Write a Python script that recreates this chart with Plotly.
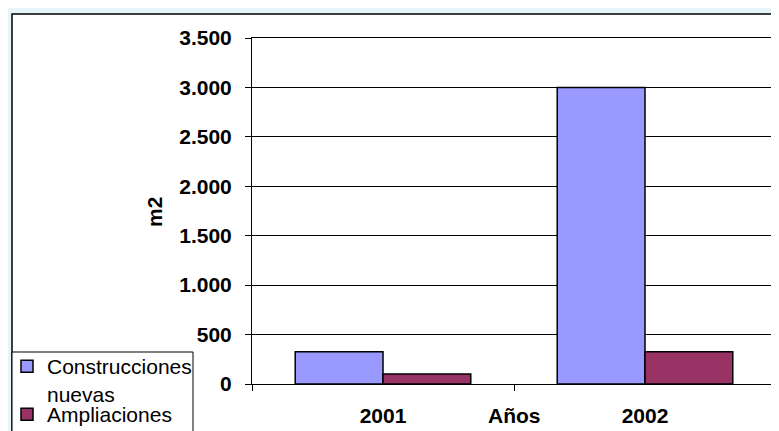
import plotly.graph_objects as go

years = ["2001", "2002"]
nuevas = [325, 3000]
ampliaciones = [100, 325]
series_names = ["Construcciones<br>nuevas", "Ampliaciones"]
y_ticks = [0, 500, 1000, 1500, 2000, 2500, 3000, 3500]

OFF = 8  # page body offset
W, H = 779 - OFF, 431 - OFF
# target plot area in window pixels: x 252..776, y 38..384
L, T = 252 - OFF, 38 - OFF
R = W - (776 - OFF)
B = H - (384 - OFF)
pw, ph = W - L - R, H - T - B

def px_x(x):
    return (x - OFF - L) / pw

def px_y(y):
    return (H - B - (y - OFF)) / ph

FONT = "Liberation Sans, Arial, sans-serif"
LEG_FONT = dict(family=FONT, size=21, color="black")

fig = go.Figure()
fig.add_trace(go.Bar(x=years, y=nuevas, name=series_names[0], legend="legend",
                     marker=dict(color="#9999FF", line=dict(color="black", width=1.5))))
fig.add_trace(go.Bar(x=years, y=ampliaciones, name=series_names[1], legend="legend2",
                     marker=dict(color="#993366", line=dict(color="black", width=1.5))))

fig.update_layout(
    width=W, height=H,
    margin=dict(l=L, r=R, t=T, b=B, autoexpand=False),
    paper_bgcolor="#E7F4FA",
    plot_bgcolor="white",
    separators=",.",
    barmode="group",
    bargap=0.33,
    bargroupgap=0,
    font=dict(family=FONT, color="black"),
    showlegend=True,
    legend=dict(
        x=px_x(7), xanchor="left",
        y=px_y(346), yanchor="top",
        bgcolor="rgba(0,0,0,0)", borderwidth=0,
        font=LEG_FONT, valign="top",
    ),
    legend2=dict(
        x=px_x(7), xanchor="left",
        y=px_y(394), yanchor="top",
        bgcolor="rgba(0,0,0,0)", borderwidth=0,
        font=LEG_FONT, valign="top",
    ),
    xaxis=dict(
        type="category",
        tickson="boundaries",
        ticks="outside", ticklen=6, tickcolor="black",
        showline=True, linecolor="black", linewidth=1, mirror=True,
        showgrid=False,
        tickfont=dict(family=FONT, size=21, color="black", weight="bold"),
        ticklabelstandoff=13,
    ),
    yaxis=dict(
        range=[0, 3500],
        tickvals=y_ticks,
        tickformat=",d",
        ticks="outside", ticklen=6, tickcolor="black",
        showline=True, linecolor="black", linewidth=1, mirror=True,
        showgrid=True, gridcolor="black", gridwidth=1,
        zeroline=False,
        tickfont=dict(family=FONT, size=21, color="black", weight="bold"),
        ticklabelstandoff=9,
    ),
    shapes=[
        dict(type="rect", xref="paper", yref="paper", layer="below",
             x0=px_x(12), y0=px_y(460), x1=px_x(800), y1=px_y(14),
             fillcolor="white", line=dict(color="black", width=1.5)),
        dict(type="rect", xref="paper", yref="paper", layer="above",
             x0=px_x(12), y0=px_y(470), x1=px_x(193), y1=px_y(352),
             fillcolor="white", line=dict(color="black", width=1)),
    ],
    annotations=[
        dict(text="<b>Años</b>", xref="paper", yref="paper",
             x=0.5, y=px_y(415), xanchor="center", yanchor="middle",
             showarrow=False, font=dict(family=FONT, size=21, color="black")),
        dict(text="<b>m2</b>", xref="paper", yref="paper",
             x=px_x(154), y=px_y(212), xanchor="center", yanchor="middle",
             textangle=-90,
             showarrow=False, font=dict(family=FONT, size=21, color="black")),
    ],
)

fig.write_html("out.html")
